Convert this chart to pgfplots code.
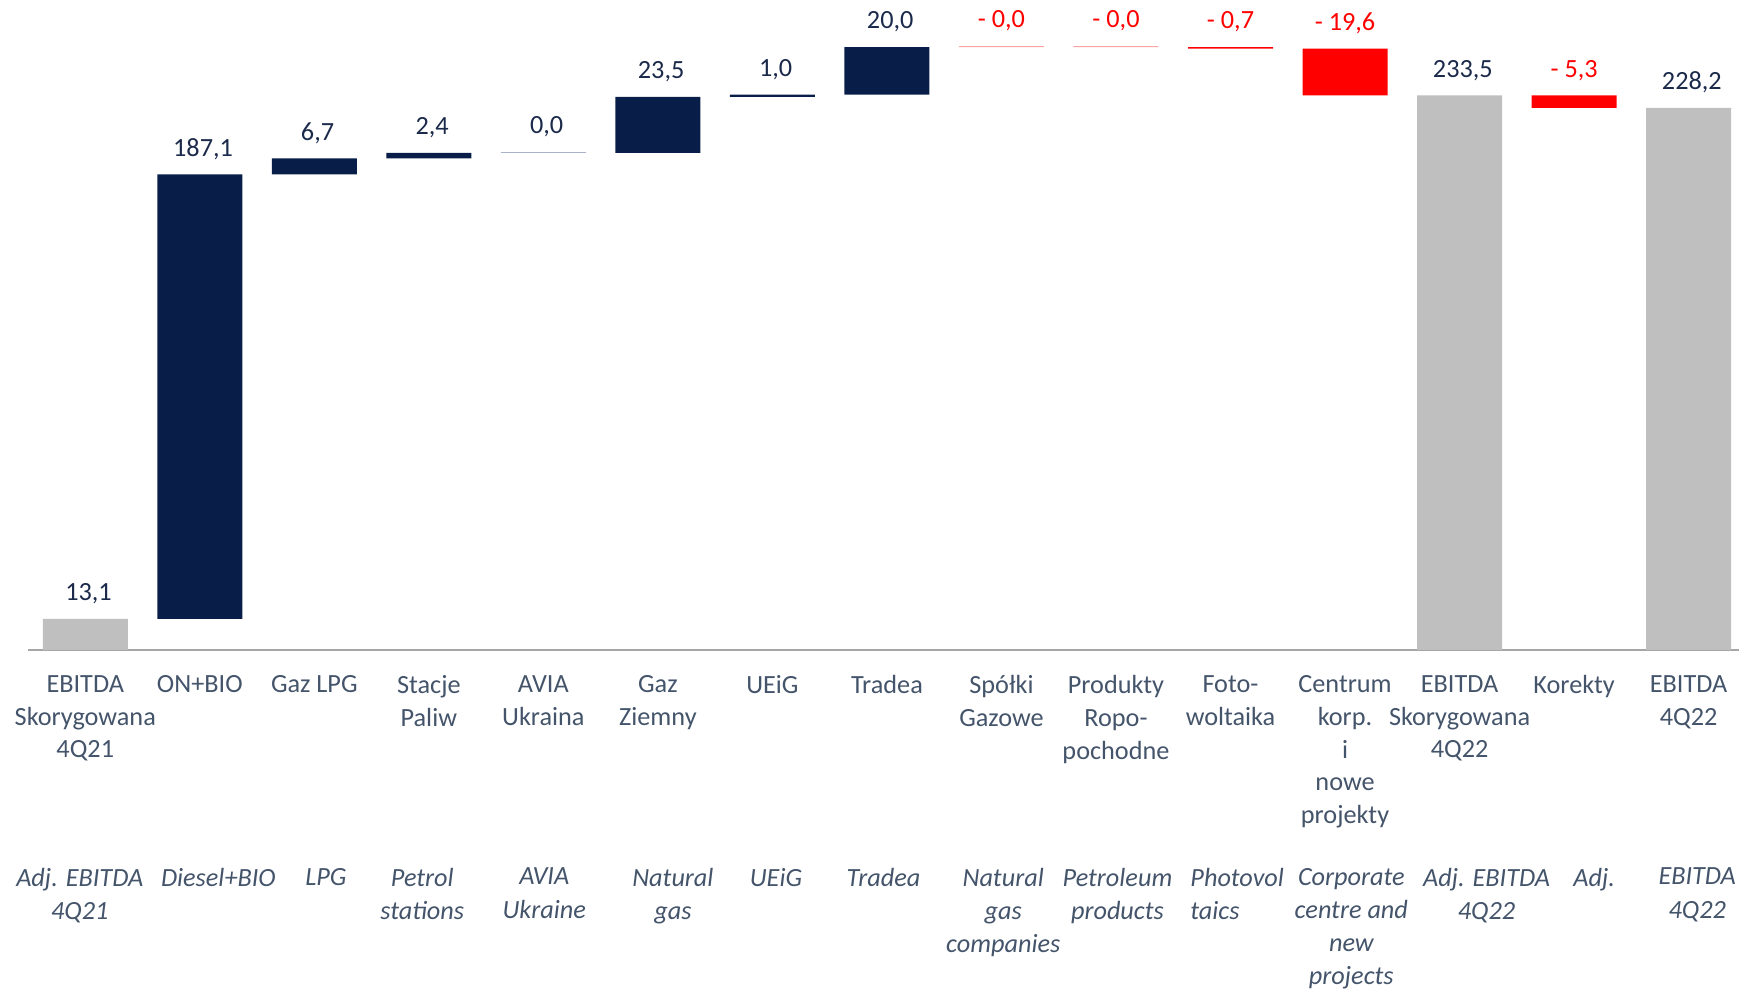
\documentclass[border=0pt]{standalone}
\usepackage{pgfplots}
\pgfplotsset{compat=1.18}
\usepackage{fontspec}
\setmainfont{Carlito}

\definecolor{barnavy}{HTML}{081E48}
\definecolor{bargray}{HTML}{BFBFBF}
\definecolor{barred}{HTML}{FF0000}
\definecolor{zeronavy}{HTML}{A9B3C6}
\definecolor{zerored}{HTML}{FFA3A3}
\definecolor{axisgray}{HTML}{A6A6A6}
\definecolor{catslate}{HTML}{44546A}
\definecolor{valnavy}{HTML}{1B2A4A}

\pgfplotsset{
    frame/.style={at={(0,0)}, anchor=south west, scale only axis,
        width=684.4pt, height=260pt,
        xmin=-0.5, xmax=14.44, ymin=0, ymax=273.6, clip=false},
}

\begin{document}
\fontsize{10.5pt}{13.1pt}\selectfont
\begin{tikzpicture}
\begin{axis}[
    frame,
    ybar stacked, bar width=34pt,
    axis y line=none, axis x line*=bottom,
    x axis line style={draw=axisgray, line width=0.9pt},
    tick style={draw=none},
    xtick={0,...,14},
    xticklabels={
        {EBITDA\\Skorygowana\\4Q21}, {ON+BIO}, {Gaz LPG}, {Stacje\\Paliw},
        {AVIA\\Ukraina}, {Gaz\\Ziemny}, {UEiG}, {Tradea}, {Spółki\\Gazowe},
        {Produkty\\Ropo-\\pochodne}, {Foto-\\woltaika},
        {Centrum\\korp.\\i\\nowe\\projekty}, {EBITDA\\Skorygowana\\4Q22},
        {Korekty}, {EBITDA\\4Q22}},
    xticklabel style={anchor=north, inner sep=0pt, yshift=-10pt, align=center,
        text=catslate},
    extra x ticks={-0.048,1.162,2.101,2.943,4.008,5.131,6.031,6.970,8.015,9.013,10.058,11.055,12.236,13.175,14.075},
    extra x tick labels={
        {Adj. EBITDA\\4Q21}, {Diesel+BIO}, {LPG}, {Petrol\\stations},
        {AVIA\\Ukraine}, {Natural\\gas}, {UEiG}, {Tradea},
        {Natural\\gas\\companies}, {Petroleum\\products},
        {Photovol\\\rlap{taics}\phantom{Photovol}},
        {Corporate\\centre and\\new\\projects}, {Adj. EBITDA\\4Q22},
        {Adj.}, {EBITDA\\4Q22}},
    extra x tick style={
        xticklabel style={yshift=-77pt,
            font=\fontsize{10.5pt}{13.3pt}\selectfont\itshape}},
]
% invisible base of each floating bar
\addplot[draw=none, fill=none] coordinates {
    (0,0) (1,13.1) (2,200.2) (3,206.9) (4,209.3) (5,209.3) (6,232.8) (7,233.8)
    (8,253.8) (9,253.8) (10,253.1) (11,233.5) (12,0) (13,228.2) (14,0)};
% totals
\addplot[draw=none, fill=bargray] coordinates {
    (0,13.1) (1,0) (2,0) (3,0) (4,0) (5,0) (6,0) (7,0)
    (8,0) (9,0) (10,0) (11,0) (12,233.5) (13,0) (14,228.2)};
% increases
\addplot[draw=none, fill=barnavy] coordinates {
    (0,0) (1,187.1) (2,6.7) (3,2.4) (4,0) (5,23.5) (6,1.0) (7,20.0)
    (8,0) (9,0) (10,0) (11,0) (12,0) (13,0) (14,0)};
% decreases
\addplot[draw=none, fill=barred] coordinates {
    (0,0) (1,0) (2,0) (3,0) (4,0) (5,0) (6,0) (7,0)
    (8,0) (9,0) (10,0.7) (11,19.6) (12,0) (13,5.3) (14,0)};
% hairlines of the zero bars
\addplot[draw=none, fill=zeronavy] coordinates {
    (0,0) (1,0) (2,0) (3,0) (4,0.4) (5,0) (6,0) (7,0)
    (8,0) (9,0) (10,0) (11,0) (12,0) (13,0) (14,0)};
\addplot[draw=none, fill=zerored] coordinates {
    (0,0) (1,0) (2,0) (3,0) (4,0) (5,0) (6,0) (7,0)
    (8,0.4) (9,0.4) (10,0) (11,0) (12,0) (13,0) (14,0)};
\end{axis}

% value labels, on an overlaid axis with the same frame
\begin{axis}[frame, hide axis]
\addplot[only marks, mark=*, mark size=0pt, mark options={draw=none, fill=none},
    point meta=explicit symbolic, nodes near coords,
    nodes near coords style={anchor=base, inner sep=0pt, yshift=7.3pt,
        xshift=1.3pt, text=valnavy}] coordinates {
    (0,13.1) [{13,1}] (1,200.2) [{187,1}] (2,206.9) [{6,7}] (3,209.3) [{2,4}]
    (4,209.7) [{0,0}] (5,232.8) [{23,5}] (6,233.8) [{1,0}] (7,253.8) [{20,0}]
    (12,233.5) [{233,5}] (14,228.2) [{228,2}]};
\addplot[only marks, mark=*, mark size=0pt, mark options={draw=none, fill=none},
    point meta=explicit symbolic, nodes near coords,
    nodes near coords style={anchor=base, inner sep=0pt, yshift=7.3pt,
        text=barred}] coordinates {
    (8,254.2) [{- 0,0}] (9,254.2) [{- 0,0}] (10,253.8) [{- 0,7}]
    (11,253.1) [{- 19,6}] (13,233.5) [{- 5,3}]};
\end{axis}
\pgfresetboundingbox
\path[use as bounding box] (-11.2pt,-135.6pt) rectangle (684.4pt,260pt);
\end{tikzpicture}
\end{document}
